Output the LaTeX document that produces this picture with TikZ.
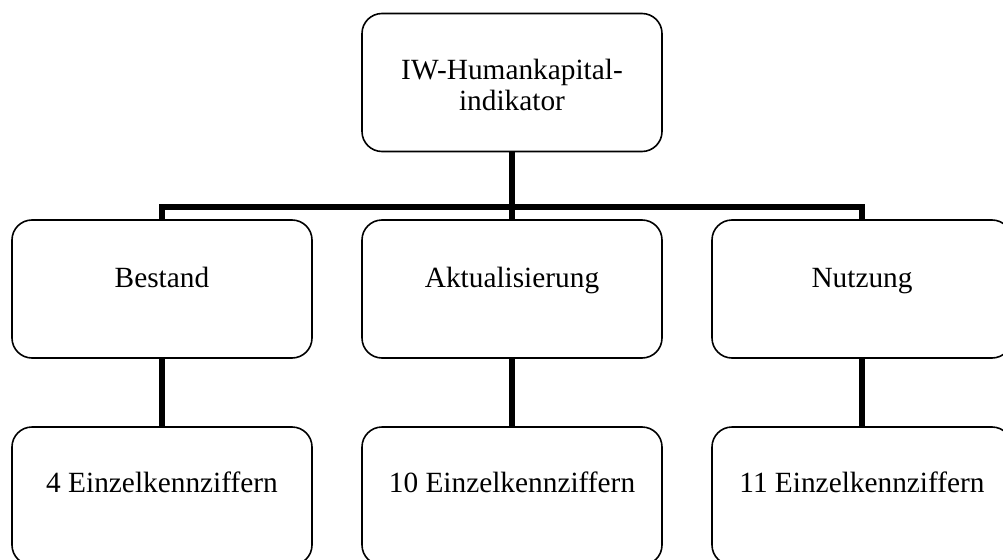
\documentclass[tikz,border=0pt]{standalone}
\usepackage{fontspec}
\setmainfont{Liberation Serif}
\begin{document}
\begin{tikzpicture}[x=0.75pt,y=-0.75pt,
  box/.style={draw,line width=1.2pt,rounded corners=15pt,minimum width=225pt,minimum height=103.5pt,inner sep=0pt},
  lbl/.style={font=\fontsize{22}{23.5}\selectfont,align=center,inner sep=0pt},
  conn/.style={line width=3.8pt,line join=miter}]
\useasboundingbox (0,0) rectangle (1003,560);
\node[box] (top) at (512,82.5) {};
\node[box] (b1) at (162,289) {};
\node[box] (b2) at (512,289) {};
\node[box] (b3) at (862,289) {};
\node[box] (c1) at (162,496) {};
\node[box] (c2) at (512,496) {};
\node[box] (c3) at (862,496) {};
\coordinate (bar) at (512,207);
\draw[conn] (top.south) -- (bar);
\draw[conn] (b1.north) -- (b1.north |- bar) -- (b3.north |- bar) -- (b3.north);
\draw[conn] (bar) -- (b2.north);
\draw[conn] (b1.south) -- (c1.north);
\draw[conn] (b2.south) -- (c2.north);
\draw[conn] (b3.south) -- (c3.north);
\node[lbl] (ttop) at (512,85) {IW-Humankapital-\\indikator};
\node[lbl,anchor=base] (tb1) at (162,287) {Bestand};
\node[lbl,anchor=base] (tb2) at (512,287) {Aktualisierung};
\node[lbl,anchor=base] (tb3) at (862,287) {Nutzung};
\node[lbl,anchor=base] (tc1) at (162,492) {4 Einzelkennziffern};
\node[lbl,anchor=base] (tc2) at (512,492) {10 Einzelkennziffern};
\node[lbl,anchor=base] (tc3) at (862,492) {11 Einzelkennziffern};
\end{tikzpicture}
\end{document}
